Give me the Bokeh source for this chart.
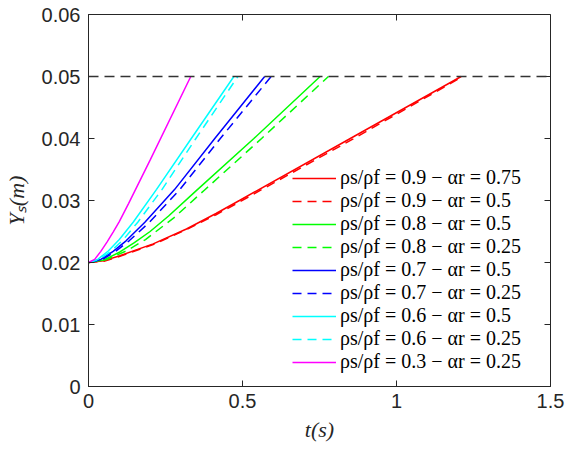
import math
from bokeh.plotting import figure
from bokeh.models import (Range1d, FixedTicker, NumeralTickFormatter,
                          Legend, LegendItem, Span)
from bokeh.embed import file_html
from bokeh.resources import INLINE

# ---- data ----
labels = [
    "ρs/ρf = 0.9 − αr = 0.75",
    "ρs/ρf = 0.9 − αr = 0.5",
    "ρs/ρf = 0.8 − αr = 0.5",
    "ρs/ρf = 0.8 − αr = 0.25",
    "ρs/ρf = 0.7 − αr = 0.5",
    "ρs/ρf = 0.7 − αr = 0.25",
    "ρs/ρf = 0.6 − αr = 0.5",
    "ρs/ρf = 0.6 − αr = 0.25",
    "ρs/ρf = 0.3 − αr = 0.25",
]

t_09_075 = [0, 0.05, 0.102, 0.21, 0.318, 0.414, 0.49, 0.85, 1.21]
y_09_075 = [0.02, 0.0203, 0.0211, 0.0230, 0.0254, 0.0279, 0.0300, 0.0400, 0.0500]

t_09_05 = [0, 0.05, 0.102, 0.21, 0.318, 0.414, 0.495, 0.858, 1.215]
y_09_05 = [0.02, 0.0202, 0.0210, 0.0229, 0.0253, 0.0277, 0.0299, 0.0399, 0.0500]

t_08_05 = [0, 0.05, 0.102, 0.149, 0.20, 0.26, 0.35, 0.537, 0.752]
y_08_05 = [0.02, 0.0204, 0.0217, 0.0232, 0.0250, 0.0275, 0.0316, 0.0400, 0.0500]

t_08_025 = [0, 0.06, 0.124, 0.185, 0.277, 0.377, 0.562, 0.779]
y_08_025 = [0.02, 0.0205, 0.0219, 0.0237, 0.0272, 0.0317, 0.0400, 0.0500]

t_07_05 = [0, 0.04, 0.08, 0.122, 0.183, 0.28, 0.41, 0.572]
y_07_05 = [0.02, 0.0205, 0.0218, 0.0235, 0.0265, 0.0318, 0.0400, 0.0500]

t_07_025 = [0, 0.045, 0.088, 0.132, 0.198, 0.297, 0.428, 0.593]
y_07_025 = [0.02, 0.0205, 0.0218, 0.0235, 0.0265, 0.0318, 0.0400, 0.0500]

t_06_05 = [0, 0.03, 0.065, 0.10, 0.145, 0.221, 0.331, 0.472]
y_06_05 = [0.02, 0.0205, 0.0219, 0.0237, 0.0265, 0.0318, 0.0398, 0.0500]

t_06_025 = [0, 0.035, 0.075, 0.113, 0.160, 0.239, 0.346, 0.485]
y_06_025 = [0.02, 0.0205, 0.0219, 0.0237, 0.0265, 0.0318, 0.0398, 0.0500]

t_03_025 = [0, 0.02, 0.04, 0.06, 0.08, 0.10, 0.13, 0.20, 0.332]
y_03_025 = [0.02, 0.0205, 0.0218, 0.0233, 0.0249, 0.0266, 0.0295, 0.0365, 0.0500]

y_limit = 0.05
x_ticks = [0, 0.5, 1, 1.5]
y_ticks = [0, 0.01, 0.02, 0.03, 0.04, 0.05, 0.06]
x_min, x_max = 0, 1.5
y_min, y_max = 0, 0.06

series = [
    (t_09_075, y_09_075), (t_09_05, y_09_05),
    (t_08_05, y_08_05), (t_08_025, y_08_025),
    (t_07_05, y_07_05), (t_07_025, y_07_025),
    (t_06_05, y_06_05), (t_06_025, y_06_025),
    (t_03_025, y_03_025),
]

# ---- styles ----
colors = ["#ff0000", "#ff0000", "#00ff00", "#00ff00", "#0000ff", "#0000ff",
          "#00ffff", "#00ffff", "#ff00ff"]
dashes = ["solid", "9 6", "solid", "9 6", "solid", "9 6", "solid", "9 6", "solid"]

AX = "#262626"

p = figure(width=571, height=454, x_range=Range1d(x_min, x_max),
           y_range=Range1d(y_min, y_max),
           output_backend="svg", toolbar_location=None,
           min_border_left=86, min_border_right=21, min_border_top=14,
           min_border_bottom=68)
p.grid.visible = False
p.outline_line_color = AX
p.background_fill_color = "white"
p.border_fill_color = "white"

p.add_layout(Span(location=y_limit, dimension="width", line_color="#333333",
                  line_width=1.5, line_dash="10 6"))

renderers = []
for (tx, ty), c, d in zip(series, colors, dashes):
    r = p.line(tx, ty, line_color=c, line_width=1.5, line_dash=d)
    renderers.append(r)

# inward ticks on the top and right edges (half of each dash is clipped by the frame)
p.scatter(x=x_ticks, y=[y_max] * len(x_ticks), marker="dash", size=12,
          angle=math.pi / 2, line_color=AX, line_width=1)
p.scatter(x=[x_max] * len(y_ticks), y=y_ticks, marker="dash", size=12,
          line_color=AX, line_width=1)

for ax in (p.xaxis[0], p.yaxis[0]):
    ax.axis_line_color = AX
    ax.major_tick_line_color = AX
    ax.major_tick_in = 6
    ax.major_tick_out = 0
    ax.minor_tick_line_color = None
    ax.major_label_text_font = "Liberation Sans"
    ax.major_label_text_font_size = "20px"
    ax.major_label_text_color = AX
    ax.axis_label_text_font = "Liberation Serif"
    ax.axis_label_text_font_style = "italic"
    ax.axis_label_text_font_size = "22px"
    ax.axis_label_text_color = AX

p.xaxis[0].ticker = FixedTicker(ticks=x_ticks)
p.xaxis[0].formatter = NumeralTickFormatter(format="0.[0]")
p.xaxis[0].axis_label = "t(s)"
p.xaxis[0].major_label_standoff = 7
p.xaxis[0].axis_label_standoff = 6

p.yaxis[0].ticker = FixedTicker(ticks=y_ticks)
p.yaxis[0].formatter = NumeralTickFormatter(format="0.[00]")
p.yaxis[0].axis_label = "Yₛ(m)"
p.yaxis[0].major_label_standoff = 8
p.yaxis[0].axis_label_standoff = 10

items = [LegendItem(label=lab, renderers=[r]) for lab, r in zip(labels, renderers)]
legend = Legend(items=items, location=(199, 8),
                background_fill_alpha=0, border_line_alpha=0,
                label_text_font="Liberation Serif", label_text_font_size="20px",
                label_text_color="#000000",
                glyph_width=44, glyph_height=20, label_height=20, spacing=0,
                padding=5, margin=0, label_standoff=4)
p.add_layout(legend)

open("out.html", "w").write(file_html(p, INLINE))
